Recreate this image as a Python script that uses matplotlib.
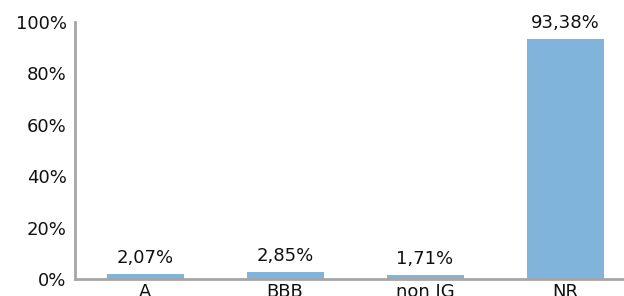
import matplotlib

matplotlib.use("Agg")

import matplotlib.pyplot as plt
from matplotlib.ticker import FuncFormatter

categories = ["A", "BBB", "non IG", "NR"]
shares = [2.07, 2.85, 1.71, 93.38]
value_labels = ["2,07%", "2,85%", "1,71%", "93,38%"]
y_ticks = [0, 20, 40, 60, 80, 100]

bar_color = "#80b4da"
axis_color = "#a6a6a6"
text_color = "#111111"

fig = plt.figure(figsize=(6.24, 2.96), dpi=100)
ax = fig.add_axes([75 / 624, 17 / 296, 560 / 624, 257 / 296])

x = range(len(categories))
bars = ax.bar(x, shares, width=0.55, color=bar_color, zorder=2)

for bar, label in zip(bars, value_labels):
    ax.annotate(label, (bar.get_x() + bar.get_width() / 2, bar.get_height()),
                xytext=(0, 5), textcoords="offset points",
                ha="center", va="bottom", fontsize=13, color=text_color)

ax.set_xlim(-0.5, len(categories) - 0.5)
ax.set_ylim(0, 100)
ax.set_yticks(y_ticks)
ax.yaxis.set_major_formatter(FuncFormatter(lambda v, _: f"{v:.0f}%"))
ax.set_xticks(list(x))
ax.set_xticklabels(categories)
ax.tick_params(axis="both", length=0, labelsize=13, labelcolor=text_color)
ax.tick_params(axis="y", pad=6)
ax.tick_params(axis="x", pad=3)

for side in ("top", "right"):
    ax.spines[side].set_visible(False)
for side in ("left", "bottom"):
    ax.spines[side].set_color(axis_color)
    ax.spines[side].set_linewidth(2)

fig.savefig("out.png", dpi=100)
